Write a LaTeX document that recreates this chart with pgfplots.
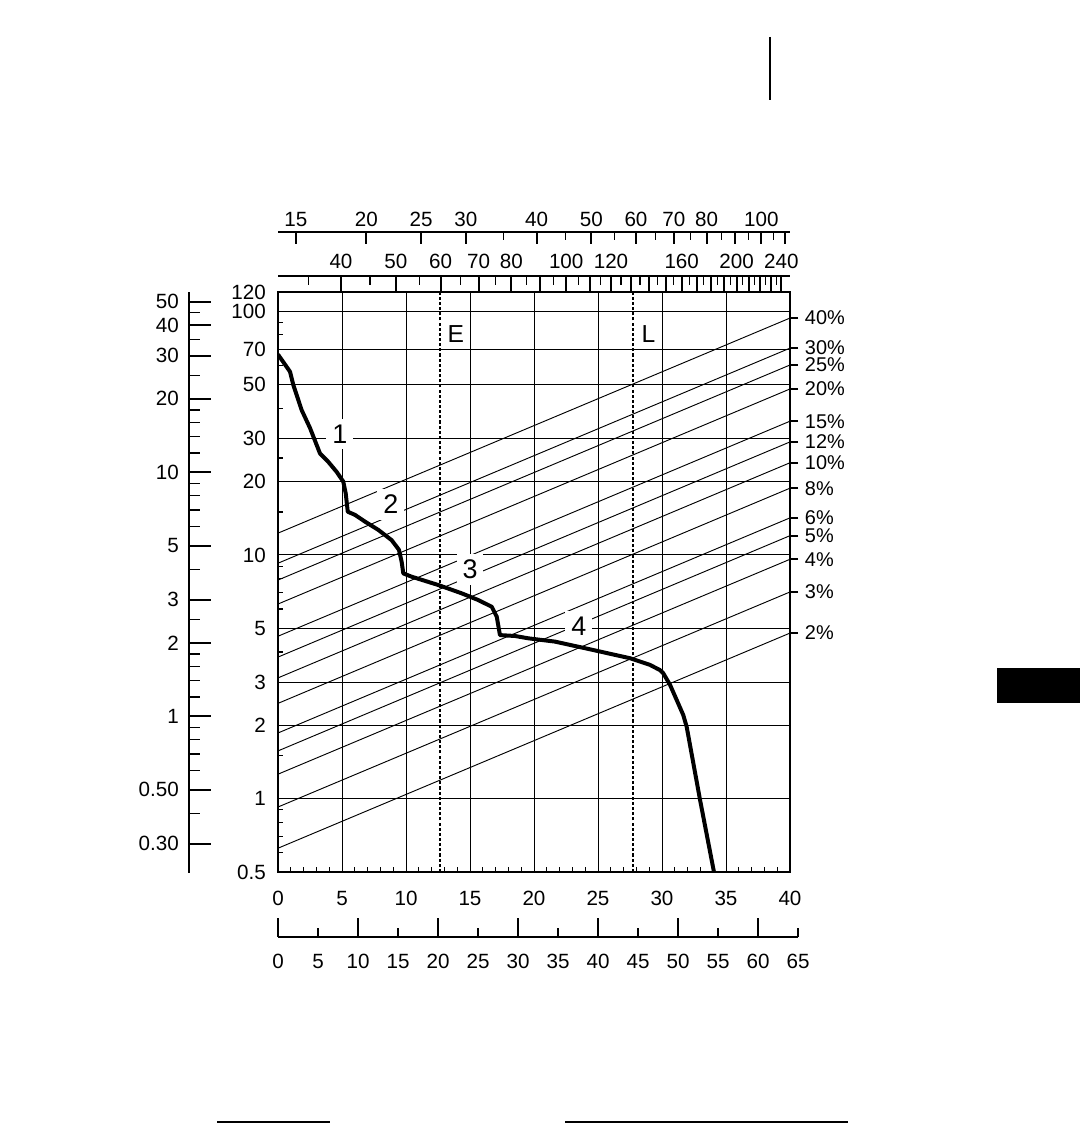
\documentclass[border=0pt]{standalone}
\usepackage{fontspec}
\setmainfont{Liberation Sans}
\usepackage{pgfplots}
\pgfplotsset{compat=1.18}

% no arrows, no centred ticks on the single-line scales
\pgfplotsset{
  every non boxed x axis/.style={},
  every non boxed y axis/.style={},
  base/.style={
    scale only axis,
    enlargelimits=false,
    axis line style={-, line width=0.85pt},
    tick label style={font=\fontsize{8.8}{10}\selectfont},
    /pgf/number format/assume math mode=true,
    every tick/.style={black, line width=0.5pt},
    every major tick/.append style={line width=0.85pt},
  },
}

\begin{document}
\begin{tikzpicture}
\path[use as bounding box] (0,0) rectangle (162mm,168.6mm);

% left outer scale
\begin{axis}[base,
  at={(28.35mm,37.65mm)}, anchor=south west,
  width=1mm, height=87.15mm,
  xmin=0, xmax=1, ymode=log, ymin=0.2278, ymax=54.8,
  axis x line=none, axis y line=left,
  tick align=inside,
  ytick={0.3,0.5,1,2,3,5,10,20,30,40,50},
  yticklabels={0.30,0.50,1,2,3,5,10,20,30,40,50},
  minor ytick={0.4,0.6,0.7,0.8,0.9,1.2,1.4,1.6,1.8,2.5,4,6,7,8,9,12,14,16,18,25,35,45},
  major tick length=3.3mm, minor tick length=1.65mm,
  yticklabel style={xshift=-0.3mm},
]
\end{axis}

% upper top scale
\begin{axis}[base,
  at={(41.7mm,133.8mm)}, anchor=north west,
  width=76.8mm, height=1mm,
  ymin=0, ymax=1, xmode=log, xmin=13.95, xmax=112.4,
  axis y line=none, axis x line=top,
  tick align=inside,
  xtick={15,20,25,30,40,50,60,70,80,90,100,110},
  xticklabels={15,20,25,30,40,50,60,70,80,,100,},
  minor xtick={35,45,55,65,75,85,95,105},
  major tick length=1.75mm, minor tick length=1.2mm,
  xticklabel style={yshift=-0.4mm},
]
\end{axis}

% lower top scale
\begin{axis}[base,
  at={(41.7mm,127.2mm)}, anchor=north west,
  width=76.8mm, height=1mm,
  ymin=0, ymax=1, xmode=log, xmin=30.96, xmax=248.6,
  axis y line=none, axis x line=top,
  tick align=inside,
  xtick={40,50,...,240},
  xticklabels={40,50,60,70,80,,100,,120,,,,160,,,,200,,,,240},
  minor xtick={35,45,...,235},
  major tick length=2.4mm, minor tick length=1.35mm,
  xticklabel style={yshift=-0.2mm},
]
\end{axis}

% bottom ruler
\begin{axis}[base,
  at={(41.7mm,28.05mm)}, anchor=south west,
  width=78mm, height=1mm,
  ymin=0, ymax=1, xmin=0, xmax=65,
  axis y line=none, axis x line=bottom,
  tick align=inside,
  xtick={0,10,...,60},
  extra x ticks={5,15,...,65},
  extra x tick style={major tick length=1.35mm},
  major tick length=2.85mm,
  xticklabel style={yshift=-1.3mm},
]
\end{axis}

% percentage labels on the right
\begin{axis}[base,
  at={(41.7mm,37.8mm)}, anchor=south west,
  width=76.8mm, height=87mm,
  xmin=0, xmax=40, ymode=log, ymin=0.5, ymax=120,
  axis x line=none, axis y line=right,
  tick align=outside, major tick length=1.2mm,
  ytick={4.78,7.05,9.6,12.0,14.2,18.8,23.9,29.1,35.4,48.0,60.2,70.6,93.8},
  yticklabels={2\%,3\%,4\%,5\%,6\%,8\%,10\%,12\%,15\%,20\%,25\%,30\%,40\%},
  yticklabel style={xshift=-0.2mm, inner ysep=0pt, font=\fontsize{8.5}{9}\selectfont},
]
\end{axis}

% main chart
\begin{axis}[base,
  at={(41.7mm,37.8mm)}, anchor=south west,
  width=76.8mm, height=87mm,
  xmin=0, xmax=40, ymode=log, ymin=0.5, ymax=120,
  axis line style={line width=1pt},
  xtick={0,5,...,40}, minor x tick num=4,
  ytick={0.5,1,2,3,5,10,20,30,50,70,100,120},
  yticklabels={0.5,1,2,3,5,10,20,30,50,70,100,120},
  minor ytick={0.6,0.7,0.8,0.9,1.5,4,6,7,8,9,15,25,40,60,80,90},
  xtick pos=left, ytick pos=left, tick align=inside,
  major tick length=0pt, minor tick length=0.8mm,
  grid=major, major grid style={black, line width=0.4pt},
  xticklabel style={anchor=base, yshift=-5mm},
  yticklabel style={xshift=-0.6mm},
]
% constant-rate lines
\addplot[black, line width=0.4pt] coordinates {(0,0.626)(40,4.78)};
\addplot[black, line width=0.4pt] coordinates {(0,0.924)(40,7.05)};
\addplot[black, line width=0.4pt] coordinates {(0,1.26)(40,9.6)};
\addplot[black, line width=0.4pt] coordinates {(0,1.57)(40,12.0)};
\addplot[black, line width=0.4pt] coordinates {(0,1.86)(40,14.2)};
\addplot[black, line width=0.4pt] coordinates {(0,2.46)(40,18.8)};
\addplot[black, line width=0.4pt] coordinates {(0,3.13)(40,23.9)};
\addplot[black, line width=0.4pt] coordinates {(0,3.81)(40,29.1)};
\addplot[black, line width=0.4pt] coordinates {(0,4.64)(40,35.4)};
\addplot[black, line width=0.4pt] coordinates {(0,6.29)(40,48.0)};
\addplot[black, line width=0.4pt] coordinates {(0,7.89)(40,60.2)};
\addplot[black, line width=0.4pt] coordinates {(0,9.25)(40,70.6)};
\addplot[black, line width=0.4pt] coordinates {(0,12.29)(40,93.8)};
% E and L markers
\addplot[black, line width=1.1pt, dash pattern=on 1.3pt off 0.9pt] coordinates {(12.66,0.5)(12.66,120)};
\addplot[black, line width=1.1pt, dash pattern=on 1.3pt off 0.9pt] coordinates {(27.73,0.5)(27.73,120)};
\node[font=\fontsize{10.5}{12}\selectfont] at (axis cs:13.9,80.7) {E};
\node[font=\fontsize{10.5}{12}\selectfont] at (axis cs:28.95,80.7) {L};
% segment numbers
\node[fill=white, inner sep=0.9mm, font=\fontsize{11.5}{13}\selectfont] at (axis cs:4.84,31.3) {1};
\node[fill=white, inner sep=0.9mm, font=\fontsize{11.5}{13}\selectfont] at (axis cs:8.81,16.1) {2};
\node[fill=white, inner sep=0.9mm, font=\fontsize{11.5}{13}\selectfont] at (axis cs:15.0,8.7) {3};
\node[fill=white, inner sep=0.9mm, font=\fontsize{11.5}{13}\selectfont] at (axis cs:23.5,5.1) {4};
% measured curve
\addplot[black, line width=1.7pt, line join=round] coordinates {
  (0,66.5)(0.94,56.5)(1.20,49.8)(1.85,39.3)(2.50,33.2)(3.28,26.1)
  (3.93,24.1)(4.59,21.9)(5.10,20.0)(5.29,17.9)(5.45,15.05)(6.02,14.6)
  (6.80,13.7)(7.84,12.67)(8.88,11.5)(9.45,10.5)(9.66,9.38)(9.79,8.4)
  (10.45,8.14)(12.52,7.53)(14.35,6.96)(15.65,6.53)(16.70,6.13)(17.09,5.58)
  (17.34,4.69)(18.52,4.65)(19.55,4.55)(21.64,4.41)(24.38,4.10)(27.5,3.77)
  (29.06,3.54)(29.84,3.37)(30.1,3.27)(30.63,2.93)(31.66,2.205)(31.93,1.97)
  (32.97,0.99)(34.06,0.5)
};
\end{axis}

% page marks of the scan
\draw[line width=0.9pt] (115.5mm,163.05mm) -- (115.5mm,153.6mm);
\fill[black] (149.55mm,63.15mm) rectangle (162mm,68.4mm);
\draw[line width=0.6pt] (32.55mm,0.3mm) -- (49.5mm,0.3mm);
\draw[line width=0.6pt] (84.75mm,0.3mm) -- (127.2mm,0.3mm);
\end{tikzpicture}
\end{document}
